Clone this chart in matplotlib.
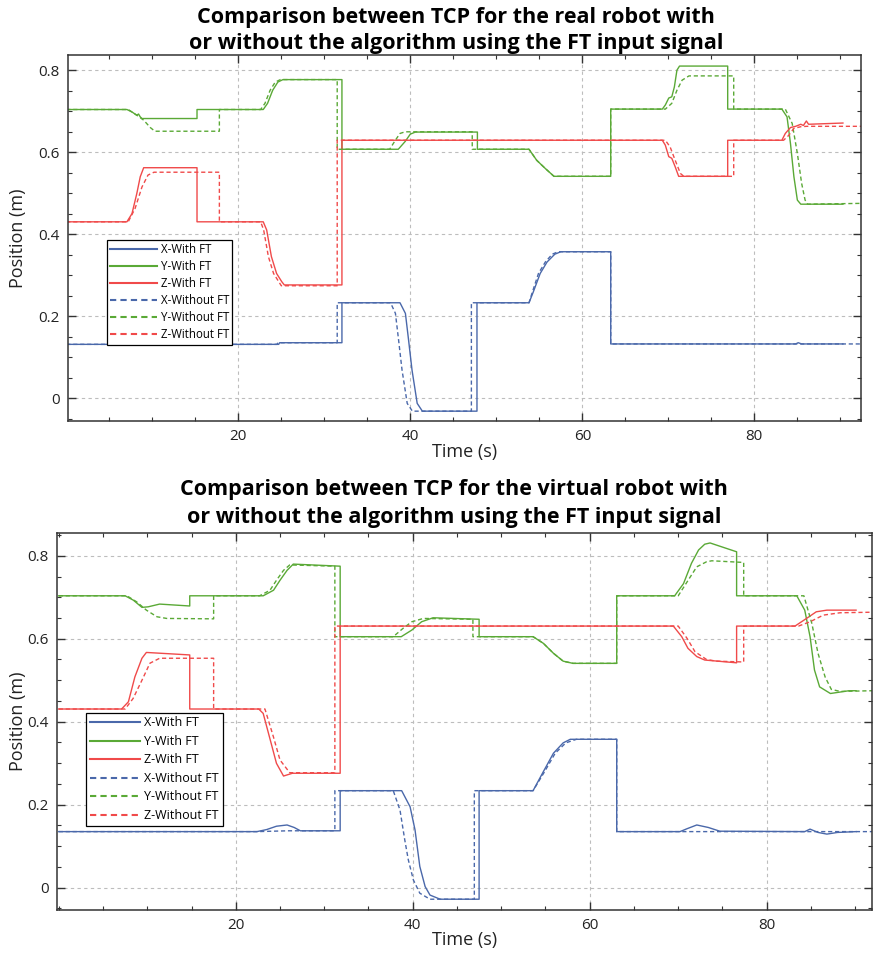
import matplotlib
matplotlib.use('Agg')
import matplotlib.pyplot as plt
from matplotlib.ticker import MultipleLocator, FuncFormatter

plt.rcParams['font.family'] = ['Open Sans', 'DejaVu Sans']

# ---------------- data: real robot (top) ----------------
real_x_with_t = [0, 24.7, 24.8, 32.05, 32.05, 38.8, 39.43, 39.8, 40.2, 40.8, 41.4, 47.75, 47.75, 53.8, 54.3, 55.1, 55.9, 56.8, 57.5, 63.3, 63.3, 84.8, 85.1, 85.5, 90.3]
real_x_with_v = [0.131, 0.131, 0.135, 0.135, 0.2325, 0.2325, 0.2065, 0.141, 0.068, -0.013, -0.032, -0.032, 0.2325, 0.2325, 0.259, 0.304, 0.332, 0.351, 0.357, 0.357, 0.132, 0.132, 0.135, 0.132, 0.132]
real_x_without_t = [0, 24.5, 24.6, 31.5, 31.5, 37.7, 38.27, 38.64, 39.04, 39.64, 40.24, 47.1, 47.1, 53.8, 54.2, 54.9, 55.7, 56.5, 57.2, 63.3, 63.3, 92.4]
real_x_without_v = [0.131, 0.131, 0.135, 0.135, 0.2325, 0.2325, 0.2065, 0.141, 0.068, -0.013, -0.032, -0.032, 0.2325, 0.2325, 0.259, 0.304, 0.332, 0.351, 0.357, 0.357, 0.132, 0.132]

real_y_with_t = [0, 7.05, 7.64, 8.2, 8.4, 8.6, 8.8, 15.2, 15.2, 22.9, 23.4, 24.0, 24.6, 25.2, 32.05, 32.05, 38.6, 39.4, 40.0, 40.6, 47.8, 47.8, 53.8, 54.7, 55.7, 56.7, 63.3, 63.3, 69.3, 69.65, 70.05, 70.4, 70.7, 71.0, 71.3, 76.9, 76.9, 83.2, 83.8, 84.2, 84.6, 85.0, 85.4, 90.3]
real_y_with_v = [0.704, 0.704, 0.698, 0.690, 0.693, 0.686, 0.682, 0.682, 0.704, 0.704, 0.719, 0.751, 0.771, 0.777, 0.777, 0.607, 0.607, 0.626, 0.644, 0.649, 0.649, 0.607, 0.607, 0.580, 0.560, 0.541, 0.541, 0.705, 0.705, 0.715, 0.732, 0.735, 0.759, 0.800, 0.810, 0.810, 0.705, 0.705, 0.686, 0.621, 0.540, 0.483, 0.473, 0.473]
real_y_without_t = [0, 7.2, 8.2, 9.0, 9.77, 10.3, 17.8, 17.8, 22.6, 23.1, 23.7, 24.3, 24.9, 31.5, 31.5, 37.6, 38.26, 38.8, 39.4, 47.2, 47.2, 53.8, 54.7, 55.7, 56.7, 63.3, 63.3, 69.65, 70.4, 71.0, 71.6, 72.4, 77.6, 77.6, 83.6, 84.4, 85.0, 85.5, 85.9, 86.2, 92.4]
real_y_without_v = [0.704, 0.704, 0.690, 0.678, 0.660, 0.651, 0.651, 0.704, 0.704, 0.719, 0.751, 0.771, 0.777, 0.777, 0.607, 0.607, 0.629, 0.6456, 0.6496, 0.6496, 0.607, 0.607, 0.580, 0.560, 0.541, 0.541, 0.705, 0.705, 0.719, 0.751, 0.7756, 0.786, 0.786, 0.705, 0.705, 0.670, 0.597, 0.5236, 0.483, 0.473, 0.475]

real_z_with_t = [0, 7.05, 7.64, 8.2, 8.6, 9.0, 15.2, 15.2, 22.9, 23.3, 23.85, 24.45, 25.05, 25.35, 32.05, 32.05, 69.3, 69.65, 70.05, 70.4, 70.8, 71.2, 76.9, 76.9, 83.2, 83.6, 84.2, 84.8, 85.4, 85.7, 86.05, 86.3, 90.3]
real_z_with_v = [0.430, 0.430, 0.450, 0.499, 0.540, 0.562, 0.562, 0.430, 0.430, 0.410, 0.345, 0.304, 0.284, 0.276, 0.276, 0.629, 0.629, 0.617, 0.589, 0.585, 0.564, 0.541, 0.541, 0.629, 0.629, 0.6456, 0.660, 0.663, 0.668, 0.665, 0.676, 0.668, 0.671]
real_z_without_t = [0, 7.2, 8.0, 8.8, 9.5, 10.2, 17.8, 17.8, 22.6, 22.95, 23.5, 24.1, 24.7, 25.0, 31.5, 31.5, 69.65, 70.2, 70.8, 71.4, 71.8, 77.6, 77.6, 83.4, 84.0, 84.6, 85.4, 86.1, 92.4]
real_z_without_v = [0.430, 0.430, 0.4626, 0.515, 0.544, 0.551, 0.551, 0.430, 0.430, 0.410, 0.345, 0.304, 0.284, 0.274, 0.274, 0.629, 0.629, 0.613, 0.580, 0.548, 0.541, 0.541, 0.629, 0.629, 0.641, 0.658, 0.662, 0.663, 0.663]

# ---------------- data: virtual robot (bottom) ----------------
virt_x_with_t = [0, 22.4, 23.5, 24.6, 25.8, 26.6, 27.3, 31.8, 31.8, 38.75, 39.7, 40.26, 40.8, 41.4, 41.95, 43.1, 47.5, 47.5, 53.6, 54.76, 55.9, 57.0, 57.8, 63.05, 63.05, 70.2, 71.0, 72.1, 73.4, 74.7, 84.3, 84.9, 85.8, 86.8, 88.0, 90.1]
virt_x_with_v = [0.135, 0.135, 0.140, 0.148, 0.151, 0.145, 0.137, 0.137, 0.2337, 0.2337, 0.195, 0.139, 0.051, 0.0025, -0.018, -0.028, -0.028, 0.2337, 0.2337, 0.2796, 0.324, 0.349, 0.3576, 0.3576, 0.135, 0.135, 0.142, 0.151, 0.145, 0.136, 0.135, 0.141, 0.133, 0.129, 0.133, 0.135]
virt_x_without_t = [0, 22.4, 26.0, 31.2, 31.2, 37.8, 38.56, 39.1, 39.5, 40.07, 40.8, 41.95, 46.96, 46.96, 53.6, 54.9, 56.1, 57.3, 58.5, 63.05, 63.05, 91.9]
virt_x_without_v = [0.135, 0.135, 0.137, 0.137, 0.2337, 0.2337, 0.187, 0.115, 0.067, 0.0186, -0.0135, -0.028, -0.028, 0.2337, 0.2337, 0.2796, 0.324, 0.349, 0.3576, 0.3576, 0.135, 0.135]

virt_y_with_t = [0, 7.5, 8.43, 9.4, 10.1, 11.4, 14.8, 14.8, 23.1, 24.27, 25.0, 25.8, 26.5, 31.8, 31.8, 38.7, 39.9, 41.0, 42.3, 47.5, 47.5, 53.6, 54.76, 55.9, 57.0, 58.1, 63.05, 63.05, 69.6, 70.6, 71.5, 72.3, 73.0, 73.6, 76.6, 76.6, 83.4, 84.3, 84.9, 85.4, 85.98, 87.2, 89.3, 90.1]
virt_y_with_v = [0.7036, 0.7036, 0.693, 0.6757, 0.677, 0.6836, 0.679, 0.7036, 0.7036, 0.717, 0.741, 0.765, 0.780, 0.775, 0.605, 0.605, 0.621, 0.641, 0.6506, 0.647, 0.605, 0.605, 0.589, 0.565, 0.546, 0.5407, 0.5407, 0.7036, 0.7036, 0.733, 0.782, 0.814, 0.828, 0.831, 0.8097, 0.7036, 0.7036, 0.669, 0.605, 0.5246, 0.484, 0.468, 0.4747, 0.4747]
virt_y_without_t = [0, 7.7, 8.8, 9.9, 11.1, 12.2, 17.5, 17.5, 22.7, 23.87, 24.6, 25.4, 26.1, 31.2, 31.2, 37.8, 38.9, 39.9, 41.2, 46.8, 46.8, 53.6, 54.76, 55.9, 57.0, 58.1, 63.05, 63.05, 70.0, 71.0, 72.1, 73.2, 73.8, 77.4, 77.4, 84.2, 85.1, 85.8, 86.6, 87.3, 88.3, 91.9]
virt_y_without_v = [0.7036, 0.7036, 0.689, 0.669, 0.653, 0.649, 0.648, 0.7036, 0.7036, 0.717, 0.741, 0.765, 0.778, 0.775, 0.605, 0.605, 0.625, 0.641, 0.649, 0.647, 0.605, 0.605, 0.589, 0.565, 0.546, 0.5407, 0.5407, 0.7036, 0.7036, 0.737, 0.7735, 0.7856, 0.788, 0.784, 0.7036, 0.7036, 0.637, 0.565, 0.508, 0.478, 0.473, 0.4747]

virt_z_with_t = [0, 7.1, 7.87, 8.6, 9.4, 9.9, 14.8, 14.8, 22.6, 23.1, 23.9, 24.6, 25.4, 26.4, 31.8, 31.8, 69.45, 70.4, 71.1, 72.1, 73.0, 76.6, 76.6, 83.2, 84.5, 85.6, 86.8, 90.1]
virt_z_with_v = [0.4306, 0.4306, 0.448, 0.508, 0.553, 0.567, 0.561, 0.4306, 0.4306, 0.420, 0.356, 0.2997, 0.269, 0.2757, 0.2757, 0.6306, 0.6306, 0.605, 0.577, 0.557, 0.5487, 0.542, 0.6306, 0.6306, 0.649, 0.665, 0.669, 0.669]
virt_z_without_t = [0, 7.5, 8.4, 9.4, 10.3, 11.4, 17.5, 17.5, 23.3, 24.25, 25.0, 26.1, 31.2, 31.2, 70.0, 71.0, 71.9, 73.2, 74.3, 77.4, 77.4, 83.6, 84.9, 86.4, 88.3, 91.9]
virt_z_without_v = [0.4306, 0.4306, 0.456, 0.500, 0.541, 0.553, 0.553, 0.4306, 0.4306, 0.364, 0.3077, 0.277, 0.277, 0.6306, 0.6306, 0.601, 0.5687, 0.550, 0.546, 0.544, 0.6306, 0.6306, 0.641, 0.657, 0.6627, 0.664]

labels = ['X-With FT', 'Y-With FT', 'Z-With FT', 'X-Without FT', 'Y-Without FT', 'Z-Without FT']
x_ticks = [20, 40, 60, 80]
y_ticks = [0, 0.2, 0.4, 0.6, 0.8]
titles = ['Comparison between TCP for the real robot with',
          'or without the algorithm using the FT input signal',
          'Comparison between TCP for the virtual robot with',
          'or without the algorithm using the FT input signal']

BLUE = '#4a68aa'
GREEN = '#5aa936'
RED = '#f04a4a'
colors = [BLUE, GREEN, RED, BLUE, GREEN, RED]
styles = ['-', '-', '-', (0, (3, 2)), (0, (3, 2)), (0, (3, 2))]

W, H = 879, 955
fig = plt.figure(figsize=(W / 100, H / 100), dpi=100)
ax1 = fig.add_axes([68 / W, 1 - 421 / H, 793 / W, 366 / H])
ax2 = fig.add_axes([57 / W, 1 - 910 / H, 815 / W, 377 / H])


def fmt(v, pos):
    return '0' if abs(v) < 1e-9 else f'{v:.1f}'


def draw(ax, series, xlim, ylim, leg_anchor, leg_fs, leg_sp, xl_y, yl_x):
    for (t, v), lab, c, ls in zip(series, labels, colors, styles):
        ax.plot(t, v, color=c, ls=ls, lw=1.0, label=lab)
    ax.set_xlim(*xlim)
    ax.set_ylim(*ylim)
    ax.set_xticks(x_ticks)
    ax.set_yticks(y_ticks)
    ax.xaxis.set_minor_locator(MultipleLocator(5))
    ax.yaxis.set_minor_locator(MultipleLocator(0.05))
    ax.yaxis.set_major_formatter(FuncFormatter(fmt))
    ax.grid(True, which='major', color='#bdbdbd', ls=(0, (3, 3)), lw=0.8)
    ax.tick_params(which='both', direction='in', top=True, right=True,
                   color='#333333', labelsize=11, labelcolor='#222222')
    ax.tick_params(which='major', length=6, width=1.0)
    ax.tick_params(which='minor', length=3, width=0.8)
    ax.tick_params(axis='x', pad=6)
    ax.tick_params(axis='y', pad=6)
    for s in ax.spines.values():
        s.set_color('#333333')
        s.set_linewidth(1.1)
    ax.set_xlabel('Time (s)', fontsize=13, color='#222222')
    ax.set_ylabel('Position (m)', fontsize=13, color='#222222')
    ax.xaxis.set_label_coords(0.5, xl_y)
    ax.yaxis.set_label_coords(yl_x, 0.5)
    leg = ax.legend(loc='upper left', bbox_to_anchor=leg_anchor, fontsize=leg_fs,
                    frameon=True, fancybox=False, framealpha=1, edgecolor='black',
                    handlelength=4.0, handletextpad=0.35, labelspacing=leg_sp,
                    borderpad=0.3, borderaxespad=0)
    leg.get_frame().set_linewidth(0.9)
    for ln in leg.get_lines():
        ln.set_linewidth(1.5)


draw(ax1,
     [(real_x_with_t, real_x_with_v), (real_y_with_t, real_y_with_v), (real_z_with_t, real_z_with_v),
      (real_x_without_t, real_x_without_v), (real_y_without_t, real_y_without_v), (real_z_without_t, real_z_without_v)],
     (0.2, 92.4), (-0.056, 0.837), ((107 - 68) / 793, (421 - 240) / 366), 8.3, 0.34,
     (421 - 443) / 366, (27 - 68) / 793)
draw(ax2,
     [(virt_x_with_t, virt_x_with_v), (virt_y_with_t, virt_y_with_v), (virt_z_with_t, virt_z_with_v),
      (virt_x_without_t, virt_x_without_v), (virt_y_without_t, virt_y_without_v), (virt_z_without_t, virt_z_without_v)],
     (-0.2, 91.9), (-0.054, 0.855), ((86 - 57) / 815, (910 - 712.7) / 377), 9.0, 0.44,
     (910 - 931) / 377, (27 - 57) / 815)

TFS = 15.5
fig.text(456 / W, 1 - 17 / H, titles[0], ha='center', va='center', fontsize=TFS, fontweight='bold')
fig.text(456 / W, 1 - 44 / H, titles[1], ha='center', va='center', fontsize=TFS, fontweight='bold')
fig.text(454 / W, 1 - 489 / H, titles[2], ha='center', va='center', fontsize=TFS, fontweight='bold')
fig.text(454 / W, 1 - 518 / H, titles[3], ha='center', va='center', fontsize=TFS, fontweight='bold')

fig.savefig('out.png', dpi=100)
